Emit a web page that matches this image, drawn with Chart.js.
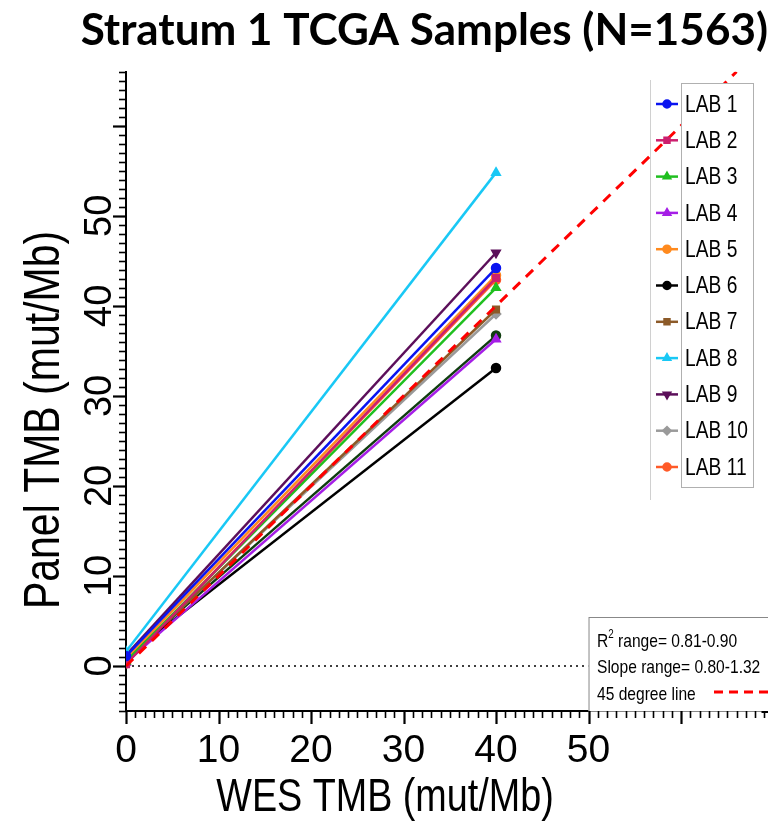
<!DOCTYPE html>
<html lang="en">
<head>
<meta charset="UTF-8">
<title>Stratum 1 TCGA Samples</title>
<script src="https://cdn.jsdelivr.net/npm/chart.js@4.4.0/dist/chart.umd.min.js"></script>
<style>
  html, body { margin: 0; padding: 0; background: #fff; }
  #wrap { width: 768px; height: 822px; }
</style>
</head>
<body>
<div id="wrap"><canvas id="chart"></canvas></div>
<script>
// ---- data ----
const chartTitle = 'Stratum 1 TCGA Samples (N=1563)'
const xTitle = 'WES TMB (mut/Mb)'
const yTitle = 'Panel TMB (mut/Mb)'
const labs = ['LAB 1', 'LAB 2', 'LAB 3', 'LAB 4', 'LAB 5', 'LAB 6', 'LAB 7', 'LAB 8', 'LAB 9', 'LAB 10', 'LAB 11']
const wesTmb = [0, 40]
const panelAt0 = [1.1, 0.2, 0.5, 0.4, 0.8, 1.0, 0.6, 1.6, 1.2, 0.7, 0.3]
const panelAt40 = [44.2, 43.1, 42.0, 36.3, 43.4, 33.1, 39.6, 54.8, 45.9, 39.1, 42.9]
// one more fitted line (dark green) is drawn but has no legend entry
const extraPanel = [0.9, 36.7]
const refLine = [0, 66]
const tickLabels = [0, 10, 20, 30, 40, 50]
const noteLines = [' range= 0.81-0.90', 'Slope range= 0.80-1.32', '45 degree line']

// ---- styles ----
const labColors = ['#0a14f0', '#cc1f6e', '#1fbf1f', '#a51ee6', '#ff8a1e', '#000000',
                   '#8c5a28', '#19c8f5', '#5c0f5a', '#9a9a9a', '#ff5a28']
const labMarkers = ['circle', 'rect', 'triangle', 'triangle', 'circle', 'circle',
                    'rect', 'triangle', 'triangle', 'rectRot', 'circle']
const labRotation = [0, 0, 0, 0, 0, 0, 0, 0, 180, 0, 0]
const SANS = "'Liberation Sans', Arial, sans-serif"

// Arial Narrow look: squeeze text horizontally
function narrowText(ctx, text, x, y, sx) {
  ctx.save()
  ctx.translate(x, y)
  ctx.scale(sx, 1)
  ctx.fillText(text, 0, 0)
  ctx.restore()
}

const datasets = [{
  label: '45 degree line',
  data: refLine.map(v => ({x: v, y: v})),
  borderColor: '#ff0000',
  borderWidth: 3,
  borderDash: [10, 8],
  pointRadius: 0,
  order: 0,
  inLegend: false
}]
labs.forEach((lab, i) => {
  datasets.push({
    label: lab,
    data: [{x: wesTmb[0], y: panelAt0[i]}, {x: wesTmb[1], y: panelAt40[i]}],
    borderColor: labColors[i],
    backgroundColor: labColors[i],
    borderWidth: 2.5,
    pointStyle: labMarkers[i],
    pointRotation: labRotation[i],
    pointRadius: 4,
    order: 1,
    inLegend: true
  })
})
datasets.push({
  label: '',
  data: [{x: wesTmb[0], y: extraPanel[0]}, {x: wesTmb[1], y: extraPanel[1]}],
  borderColor: '#0f3d0f',
  backgroundColor: '#0f3d0f',
  borderWidth: 2.5,
  pointStyle: 'circle',
  pointRadius: 4,
  order: 1,
  inLegend: false
})

// minor / major tick marks, zero line, legend and note box
const decor = {
  id: 'decor',
  beforeDatasetsDraw(chart) {
    const {ctx, scales: {x, y}} = chart
    const y0 = y.getPixelForValue(0)
    ctx.save()
    ctx.strokeStyle = '#000'
    ctx.lineWidth = 1.5
    ctx.setLineDash([2, 4])
    ctx.beginPath()
    ctx.moveTo(x.getPixelForValue(0), y0)
    ctx.lineTo(x.getPixelForValue(50), y0)
    ctx.stroke()
    ctx.restore()
  },
  afterDatasetsDraw(chart) {
    const {ctx, chartArea, scales: {x, y}} = chart
    ctx.save()
    // faint frame line left of legend
    ctx.strokeStyle = '#d0d0d0'
    ctx.lineWidth = 1
    ctx.beginPath(); ctx.moveTo(650.5, 80); ctx.lineTo(650.5, 500); ctx.stroke()

    // legend box
    const bx = 681, by = 83, bw = 72, bh = 404
    ctx.fillStyle = '#fff'
    ctx.fillRect(bx, by, bw, bh)
    ctx.strokeStyle = '#b0b0b0'
    ctx.strokeRect(bx + 0.5, by + 0.5, bw, bh)
    ctx.font = '24px ' + SANS
    ctx.textBaseline = 'middle'
    ctx.textAlign = 'left'
    let row = 0
    chart.data.datasets.forEach(ds => {
      if (!ds.inLegend) return
      const ly = 104 + row * 36.3
      ctx.strokeStyle = ds.borderColor
      ctx.lineWidth = 2.5
      ctx.beginPath(); ctx.moveTo(656, ly); ctx.lineTo(678, ly); ctx.stroke()
      ctx.fillStyle = ds.borderColor
      Chart.helpers.drawPoint(ctx, {pointStyle: ds.pointStyle, radius: 3.5, rotation: ds.pointRotation || 0, borderWidth: 1}, 667, ly)
      ctx.fillStyle = '#000'
      narrowText(ctx, ds.label, 685, ly + 1, 0.8)
      row++
    })

    // note box bottom right
    const nx = x.getPixelForValue(50), nb = chartArea.bottom, nt = nb - 94
    ctx.fillStyle = '#fff'
    ctx.fillRect(nx, nt, 768 - nx, nb - nt)
    ctx.strokeStyle = '#888'
    ctx.lineWidth = 1
    ctx.strokeRect(nx + 0.5, nt + 0.5, 770 - nx, nb - nt)
    ctx.fillStyle = '#000'
    ctx.textBaseline = 'alphabetic'
    const sq = 0.82
    ctx.font = '19px ' + SANS
    narrowText(ctx, 'R', 597, 647, sq)
    const rw = ctx.measureText('R').width * sq
    ctx.font = '12px ' + SANS
    narrowText(ctx, '2', 597 + rw, 638, sq)
    const sw = ctx.measureText('2').width * sq
    ctx.font = '19px ' + SANS
    narrowText(ctx, noteLines[0], 597 + rw + sw, 647, sq)
    narrowText(ctx, noteLines[1], 597, 673, sq)
    narrowText(ctx, noteLines[2], 597, 700, sq)
    ctx.strokeStyle = '#ff0000'
    ctx.lineWidth = 3
    ctx.setLineDash([9, 6])
    ctx.beginPath(); ctx.moveTo(714, 692); ctx.lineTo(768, 692); ctx.stroke()
    ctx.restore()
  },
  afterDraw(chart) {
    const {ctx, chartArea, scales: {x, y}} = chart
    ctx.save()
    ctx.strokeStyle = '#000'
    // extend the x axis line to the right edge
    ctx.lineWidth = 2
    ctx.beginPath(); ctx.moveTo(chartArea.right, chartArea.bottom + 1); ctx.lineTo(768, chartArea.bottom + 1); ctx.stroke()
    for (let v = Math.ceil(x.min); v <= 69; v++) {
      const px = Math.round(x.getPixelForValue(v)) + 0.5
      const major = v % 10 === 0
      ctx.lineWidth = major ? 2.2 : 1.6
      ctx.beginPath(); ctx.moveTo(px, chartArea.bottom); ctx.lineTo(px, chartArea.bottom + (major ? 13 : 7)); ctx.stroke()
    }
    for (let v = Math.ceil(y.min); v <= y.max; v++) {
      const py = Math.round(y.getPixelForValue(v)) + 0.5
      const major = v % 10 === 0
      ctx.lineWidth = major ? 2.2 : 1.6
      ctx.beginPath(); ctx.moveTo(chartArea.left, py); ctx.lineTo(chartArea.left - (major ? 13 : 7), py); ctx.stroke()
    }
    // axis titles
    ctx.fillStyle = '#000'
    ctx.font = '46px ' + SANS
    ctx.textAlign = 'center'
    ctx.textBaseline = 'middle'
    narrowText(ctx, xTitle, 385, 798, 0.82)
    ctx.translate(45, 420)
    ctx.rotate(-Math.PI / 2)
    ctx.font = '50px ' + SANS
    narrowText(ctx, yTitle, 0, 0, 0.82)
    ctx.restore()
  }
}

const hiddenTicks = len => ({ display: true, drawOnChartArea: false, drawTicks: true, tickLength: len, tickColor: 'rgba(0,0,0,0)' })

const ctx = document.getElementById('chart').getContext('2d')
const myChart = new Chart(ctx, {
  type: 'line',
  data: { datasets: datasets },
  plugins: [decor],
  options: {
    responsive: true,
    maintainAspectRatio: false,
    animation: false,
    layout: { padding: 0 },
    plugins: {
      legend: { display: false },
      tooltip: { enabled: false },
      title: {
        display: true,
        text: chartTitle,
        align: 'end',
        color: '#000',
        font: { family: 'Lato', weight: 'bold', size: 44, lineHeight: 1.2 },
        padding: { top: 4, bottom: 15 }
      }
    },
    scales: {
      x: {
        type: 'linear',
        min: 0,
        max: 68.7,
        grid: hiddenTicks(17),
        border: { display: true, color: '#000', width: 2 },
        ticks: {
          stepSize: 10,
          includeBounds: false,
          autoSkip: false,
          maxRotation: 0,
          padding: 0,
          color: '#000',
          font: { family: SANS, size: 39 },
          callback: v => tickLabels.includes(v) ? String(v) : ''
        },
        afterFit: s => { s.height = 111 }
      },
      y: {
        type: 'linear',
        min: -5,
        max: 66,
        grid: hiddenTicks(4),
        border: { display: true, color: '#000', width: 2 },
        ticks: {
          stepSize: 10,
          includeBounds: false,
          autoSkip: false,
          minRotation: 90,
          maxRotation: 90,
          crossAlign: 'center',
          padding: 0,
          color: '#000',
          font: { family: SANS, size: 38 },
          callback: v => tickLabels.includes(v) ? String(v) : ''
        },
        afterFit: s => { s.width = 126 }
      }
    }
  }
})
</script>
</body>
</html>
